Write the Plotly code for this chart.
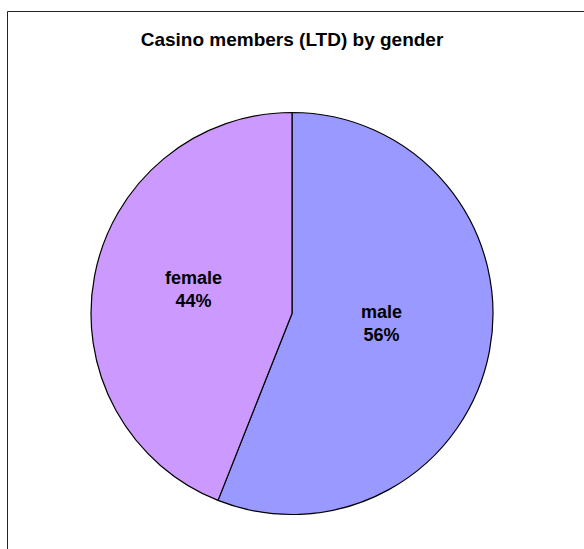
import plotly.graph_objects as go

# Membership share by gender
genders = ["male", "female"]
shares = [56, 44]
slice_colors = ["#9999FF", "#CC99FF"]

W, H = 584, 549

# pie placement (pixels): centre and radius
CX, CY, R = 292, 313.5, 201
# where each slice label sits (pixels, label centre)
label_xy = {"male": (381, 323), "female": (193, 289)}

FONT = "Liberation Sans, Arial"

fig = go.Figure(
    go.Pie(
        labels=genders,
        values=shares,
        sort=False,
        direction="clockwise",
        rotation=0,
        marker=dict(colors=slice_colors, line=dict(color="black", width=1.2)),
        textinfo="none",
        hoverinfo="label+percent",
        showlegend=False,
        domain=dict(x=[(CX - R) / W, (CX + R) / W], y=[1 - (CY + R) / H, 1 - (CY - R) / H]),
    )
)

total = sum(shares)
annotations = []
for g, v in zip(genders, shares):
    px, py = label_xy[g]
    annotations.append(dict(
        text=f"<b>{g}<br>{round(100 * v / total)}%</b>",
        x=px / W, y=1 - py / H, xref="paper", yref="paper",
        xanchor="center", yanchor="middle", showarrow=False,
        font=dict(family=FONT, size=18, color="black"),
    ))

fig.update_layout(
    width=W,
    height=H,
    margin=dict(l=0, r=0, t=0, b=0),
    paper_bgcolor="white",
    plot_bgcolor="white",
    title=dict(
        text="<b>Casino members (LTD) by gender</b>",
        x=0.5,
        xanchor="center",
        y=1 - 39 / H,
        yanchor="middle",
        font=dict(family=FONT, size=19, color="black"),
    ),
    annotations=annotations,
    shapes=[
        # chart-area border (left and top edges)
        dict(type="line", xref="paper", yref="paper",
             x0=7.5 / W, x1=7.5 / W, y0=0, y1=1 - 11.5 / H,
             line=dict(color="#222222", width=1)),
        dict(type="line", xref="paper", yref="paper",
             x0=7.5 / W, x1=1, y0=1 - 11.5 / H, y1=1 - 11.5 / H,
             line=dict(color="#222222", width=1)),
    ],
)

fig.write_html("out.html")
